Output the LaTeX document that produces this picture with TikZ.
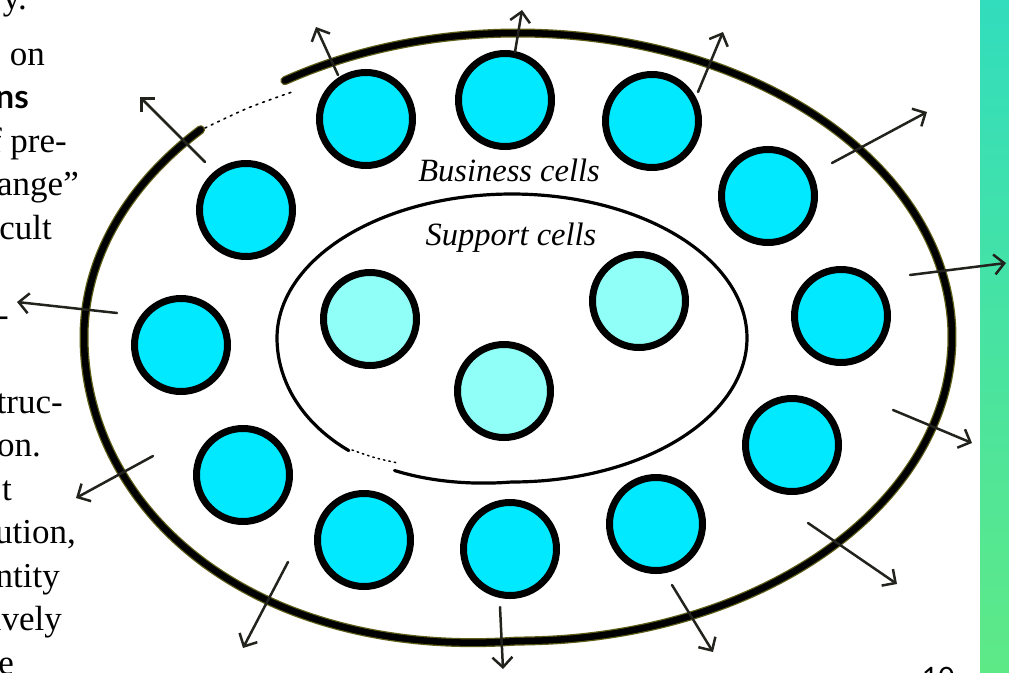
\documentclass[tikz,border=0pt]{standalone}
\usepackage{fontspec}
\setmainfont{Liberation Serif}
\newfontfamily\sanshead{Lato}
\usetikzlibrary{arrows.meta}
\definecolor{cellcyan}{RGB}{0,233,255}
\definecolor{cellpale}{RGB}{144,255,247}
\definecolor{fuzz}{RGB}{95,95,25}
\definecolor{inkgray}{RGB}{35,35,30}
\definecolor{bartop}{RGB}{50,221,189}
\definecolor{barbot}{RGB}{94,233,135}
\tikzset{
  bcell/.style={circle, draw=black, line width=7pt, fill=cellcyan, minimum size=93pt, inner sep=0pt},
  scell/.style={bcell, fill=cellpale},
  rimhalo/.style={draw=fuzz, line width=9pt, line cap=round, line join=round},
  rimline/.style={draw=black, line width=6.5pt, line cap=round, line join=round},
  innerline/.style={draw=black, line width=3.2pt, line cap=round, line join=round},
  flow/.style={draw=inkgray, line width=2.5pt, line cap=round, -{Straight Barb[length=10pt,width=20pt]}},
  pagetxt/.style={anchor=base east, inner sep=0pt, font=\fontsize{35}{42}\selectfont},
  celllabel/.style={anchor=base, inner sep=0pt, font=\fontsize{32.5}{38}\selectfont\itshape}
}
\begin{document}
\begin{tikzpicture}[x=1pt,y=-1pt]
\useasboundingbox (0,0) rectangle (1009,672);
\fill[white] (0,0) rectangle (1009,672);

% side bar
\shade[top color=bartop, bottom color=barbot] (980,0) rectangle (1009,672);

% page text fragments
\node[pagetxt] (t0) at (27,9) {y.};
\node[pagetxt] (t1) at (45,65) {on};
\node[pagetxt, font=\fontsize{33}{40}\selectfont\sanshead\bfseries] (t2) at (29,108.5) {ns};
\node[pagetxt] (t3) at (67,152) {of pre-};
\node[pagetxt] (t4) at (79,195.5) {ange”};
\node[pagetxt] (t5) at (52,239) {cult};
\node[pagetxt] (t6) at (9,326) {-};
\node[pagetxt] (t7) at (63,413) {truc-};
\node[pagetxt] (t8) at (41,456.5) {on.};
\node[pagetxt] (t9) at (12,500) {t};
\node[pagetxt] (t10) at (76,543.5) {ution,};
\node[pagetxt] (t11) at (60,587) {ntity};
\node[pagetxt] (t12) at (62,630.5) {ively};
\node[pagetxt] (t13) at (14,674) {e};
\node[anchor=north west, inner sep=0pt, font=\fontsize{28}{34}\selectfont\sanshead] (pg) at (922,667) {10};

% outer membrane (ellipse with a slightly sagging lower-left side)
\draw[rimhalo] plot[domain=-223:122.5, samples=160, smooth]
  ({518+434*cos(\x)}, {337-304*sin(\x)+16*max(0,sin(2*\x))*(cos(\x)<0)*(sin(\x)<0)});
\draw[rimline] plot[domain=-223:122.5, samples=160, smooth]
  ({518+434*cos(\x)}, {337-304*sin(\x)+16*max(0,sin(2*\x))*(cos(\x)<0)*(sin(\x)<0)});
\draw[draw=black, line width=1.6pt, dash pattern=on 2pt off 5pt, line cap=round]
  plot[smooth] coordinates {(205,128) (248,108) (292,92)};

% inner membrane
\draw[innerline] plot[domain=-120:226, samples=140, smooth]
  ({512+235*cos(\x)}, {338-144*sin(\x)+9*max(0,sin(2*\x))*(cos(\x)<0)*(sin(\x)<0)});
\draw[draw=black, line width=1.5pt, dash pattern=on 1.5pt off 4pt, line cap=round]
  plot[smooth] coordinates {(352,450) (376,458) (398,463)};

% labels
\node[celllabel] (lbus) at (509,181) {Business cells};
\node[celllabel] (lsup) at (511,245) {Support cells};

% business cells
\node[bcell] (bA) at (366,119) {};
\node[bcell] (bB) at (505,100) {};
\node[bcell] (bC) at (246,210) {};
\node[bcell] (bD) at (652,121) {};
\node[bcell] (bE) at (768,196) {};
\node[bcell] (bK) at (841,316) {};
\node[bcell] (bJ) at (792,445) {};
\node[bcell] (bI) at (656,524) {};
\node[bcell] (bH) at (510,549) {};
\node[bcell] (bG) at (364,540) {};
\node[bcell] (bF) at (243,475) {};
\node[bcell] (bL) at (181,345) {};

% support cells
\node[scell] (s1) at (370,319) {};
\node[scell] (s2) at (504,391) {};
\node[scell] (s3) at (639,301) {};

% outward arrows
\coordinate (a1s) at (205,162);  \coordinate (a1e) at (140,97);
\coordinate (a2s) at (338,75);   \coordinate (a2e) at (316,27);
\coordinate (a3s) at (515,52);   \coordinate (a3e) at (522,10);
\coordinate (a4s) at (698,92);   \coordinate (a4e) at (723,32);
\coordinate (a5s) at (832,163);  \coordinate (a5e) at (927,112);
\coordinate (a6s) at (910,275);  \coordinate (a6e) at (1006,263);
\coordinate (a7s) at (893,410);  \coordinate (a7e) at (972,443);
\coordinate (a8s) at (808,523);  \coordinate (a8e) at (897,584);
\coordinate (a9s) at (672,585);  \coordinate (a9e) at (713,652);
\coordinate (a10s) at (500,607); \coordinate (a10e) at (503,669);
\coordinate (a11s) at (288,562); \coordinate (a11e) at (243,648);
\coordinate (a12s) at (153,456); \coordinate (a12e) at (76,498);
\coordinate (a13s) at (117,313); \coordinate (a13e) at (17,302);
\foreach \i in {1,...,13} {\draw[flow] (a\i s) -- (a\i e);}
\end{tikzpicture}
\end{document}
